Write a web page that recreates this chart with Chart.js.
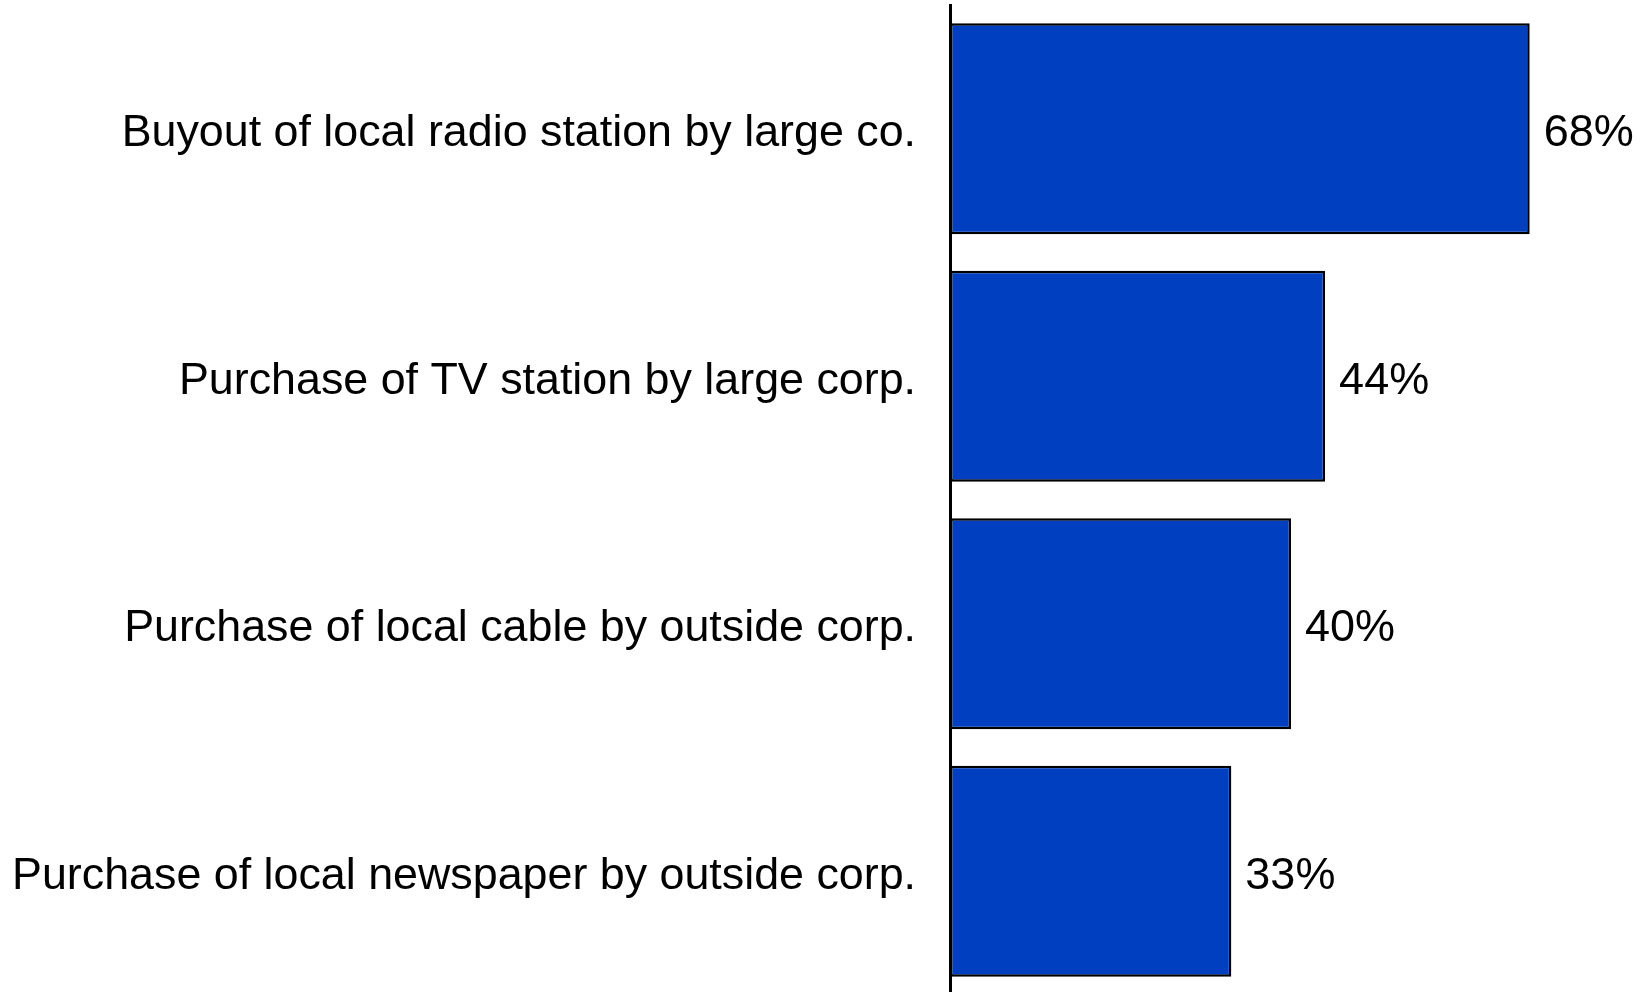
<!DOCTYPE html>
<html>
<head>
<meta charset="utf-8">
<script src="https://cdn.jsdelivr.net/npm/chart.js@4/dist/chart.umd.min.js"></script>
<style>
  html, body { margin: 0; padding: 0; background: #ffffff; overflow: hidden; }
  #wrap { position: relative; width: 1644px; height: 996px; }
</style>
</head>
<body>
<div id="wrap"><canvas id="chart"></canvas></div>
<script>
// Share of respondents concerned about each type of media ownership change
const categories = [
  'Buyout of local radio station by large co.',
  'Purchase of TV station by large corp.',
  'Purchase of local cable by outside corp.',
  'Purchase of local newspaper by outside corp.'
];
const percentValues = [68, 44, 40, 33];
const valueSuffix = '%';

const FONT = '"Liberation Sans", Arial, Helvetica, sans-serif';

// Draws each bar's value just past its end
const valueLabels = {
  id: 'valueLabels',
  afterDatasetsDraw(chart) {
    const ctx = chart.ctx;
    const meta = chart.getDatasetMeta(0);
    ctx.save();
    ctx.font = '45px ' + FONT;
    ctx.fillStyle = '#000000';
    ctx.textAlign = 'left';
    ctx.textBaseline = 'alphabetic';
    meta.data.forEach((bar, i) => {
      ctx.fillText(percentValues[i] + valueSuffix, bar.x + 14, bar.y + 17.5);
    });
    ctx.restore();
  }
};

new Chart(document.getElementById('chart'), {
  type: 'bar',
  data: {
    labels: categories,
    datasets: [{
      data: percentValues,
      backgroundColor: '#0040C0',
      borderColor: '#000000',
      borderWidth: 2.5,
      borderSkipped: false,
      categoryPercentage: 1,
      barPercentage: 0.852
    }]
  },
  options: {
    indexAxis: 'y',
    responsive: true,
    maintainAspectRatio: false,
    animation: false,
    layout: { padding: { left: 0, right: 12, top: 5, bottom: 1 } },
    plugins: {
      legend: { display: false },
      tooltip: { enabled: false }
    },
    scales: {
      x: {
        display: false,
        min: 0,
        max: 80
      },
      y: {
        afterFit(scale) {
          scale.width = 950;
          scale.paddingTop = 0;
          scale.paddingBottom = 0;
        },
        grid: { display: false, drawTicks: false },
        border: { display: true, color: '#000000', width: 3 },
        ticks: {
          color: '#000000',
          padding: 34,
          labelOffset: 5,
          font: { family: FONT, size: 44.8 }
        }
      }
    }
  },
  plugins: [valueLabels]
});
</script>
</body>
</html>
